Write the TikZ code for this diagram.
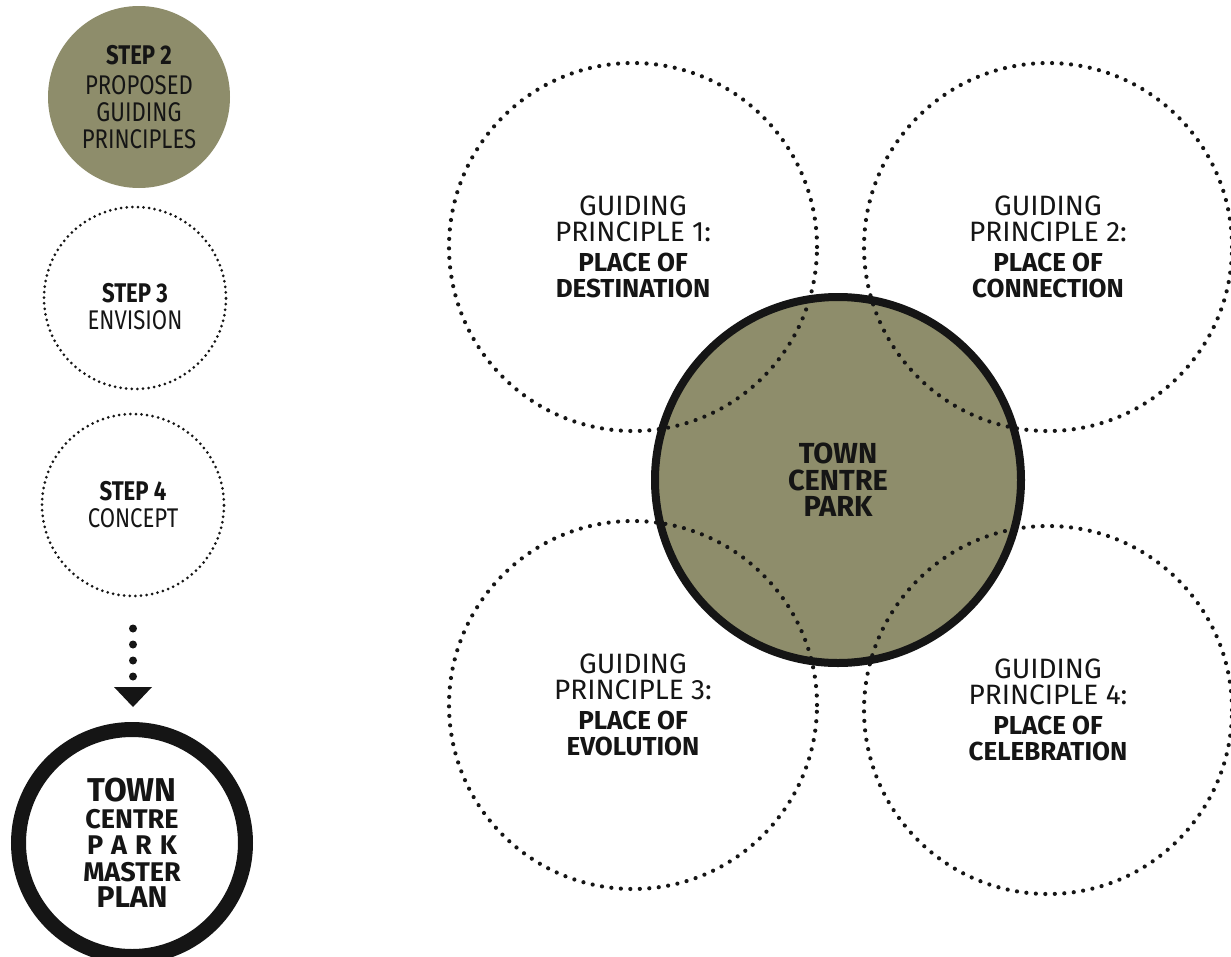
\documentclass[tikz,border=0pt]{standalone}
\usepackage{fontspec}
\setmainfont{Fira Sans}
\newfontfamily\narrowfont{Fira Sans}[FakeStretch=0.82]
\usetikzlibrary{arrows.meta, positioning}
\definecolor{parkolive}{HTML}{8E8D6B}
\definecolor{ink}{HTML}{151515}

\begin{document}
\begin{tikzpicture}[x=1pt, y=-1pt, text=ink,
    dotline/.style={draw=ink, line width=4.2pt, line cap=round, dash pattern=on 0pt off 9.5pt},
    finedots/.style={draw=ink, line width=3pt, line cap=round, dash pattern=on 0pt off 5.6pt},
    stepnode/.style={circle, inner sep=0pt, minimum size=182pt, align=center, font=\narrowfont\fontsize{27}{27}\selectfont},
    guide/.style={circle, dotline, inner sep=0pt, minimum size=368pt, align=center, font=\fontsize{28}{26}\selectfont},
    park/.style={circle, fill=parkolive, inner sep=0pt, minimum size=366pt, align=center, font=\bfseries\fontsize{29}{26.5}\selectfont}]
    \newcommand\placeof[1]{{\bfseries\fontsize{26}{26}\selectfont #1}}
    \useasboundingbox (0,0) rectangle (1231,956);
    \clip (0,0) rectangle (1231,956);
    \fill[white] (0,0) rectangle (1231,956);

    % process steps on the left
    \node[stepnode, fill=parkolive] (step2) at (139,97) {\textbf{STEP 2}\\[3pt]PROPOSED\\GUIDING\\PRINCIPLES};
    \node[stepnode, finedots, label={[align=center, font=\narrowfont\fontsize{27}{27}\selectfont, yshift=-9pt]center:\textbf{STEP 3}\\ENVISION}] (step3) at (135,298) {};
    \node[stepnode, finedots] (step4) at (133,505) {\textbf{STEP 4}\\CONCEPT};
    \node[circle, draw=ink, line width=15pt, minimum size=227pt, inner sep=0pt, align=center,
          font=\bfseries\fontsize{27}{26.5}\selectfont] (master) at (132,843)
          {{\fontsize{33}{26.5}\selectfont TOWN}\\CENTRE\\\makebox[90pt][s]{P\hfill A\hfill R\hfill K}\\MASTER\\{\fontsize{30}{26.5}\selectfont PLAN}};
    \draw[draw=ink, line width=8pt, line cap=round, dash pattern=on 0pt off 16pt,
          -{Triangle[length=20pt, width=38pt, line width=0pt]}, shorten <=31pt, shorten >=15pt]
          (step4) -- (step4 |- master.north);

    % park and guiding principles
    \node[park] (park) at (838,480) {TOWN\\CENTRE\\PARK};
    \node[guide] (gp1) at (633,247) {GUIDING\\PRINCIPLE 1:\\[4pt]\placeof{PLACE OF}\\\placeof{DESTINATION}};
    \node[guide] (gp2) at (1048,247) {GUIDING\\PRINCIPLE 2:\\[4pt]\placeof{PLACE OF}\\\placeof{CONNECTION}};
    \node[guide] (gp3) at (633,705) {GUIDING\\PRINCIPLE 3:\\[4pt]\placeof{PLACE OF}\\\placeof{EVOLUTION}};
    \node[guide] (gp4) at (1048,710) {GUIDING\\PRINCIPLE 4:\\[4pt]\placeof{PLACE OF}\\\placeof{CELEBRATION}};
    \draw[draw=ink, line width=8pt] (park.center) circle (183pt);
\end{tikzpicture}
\end{document}
